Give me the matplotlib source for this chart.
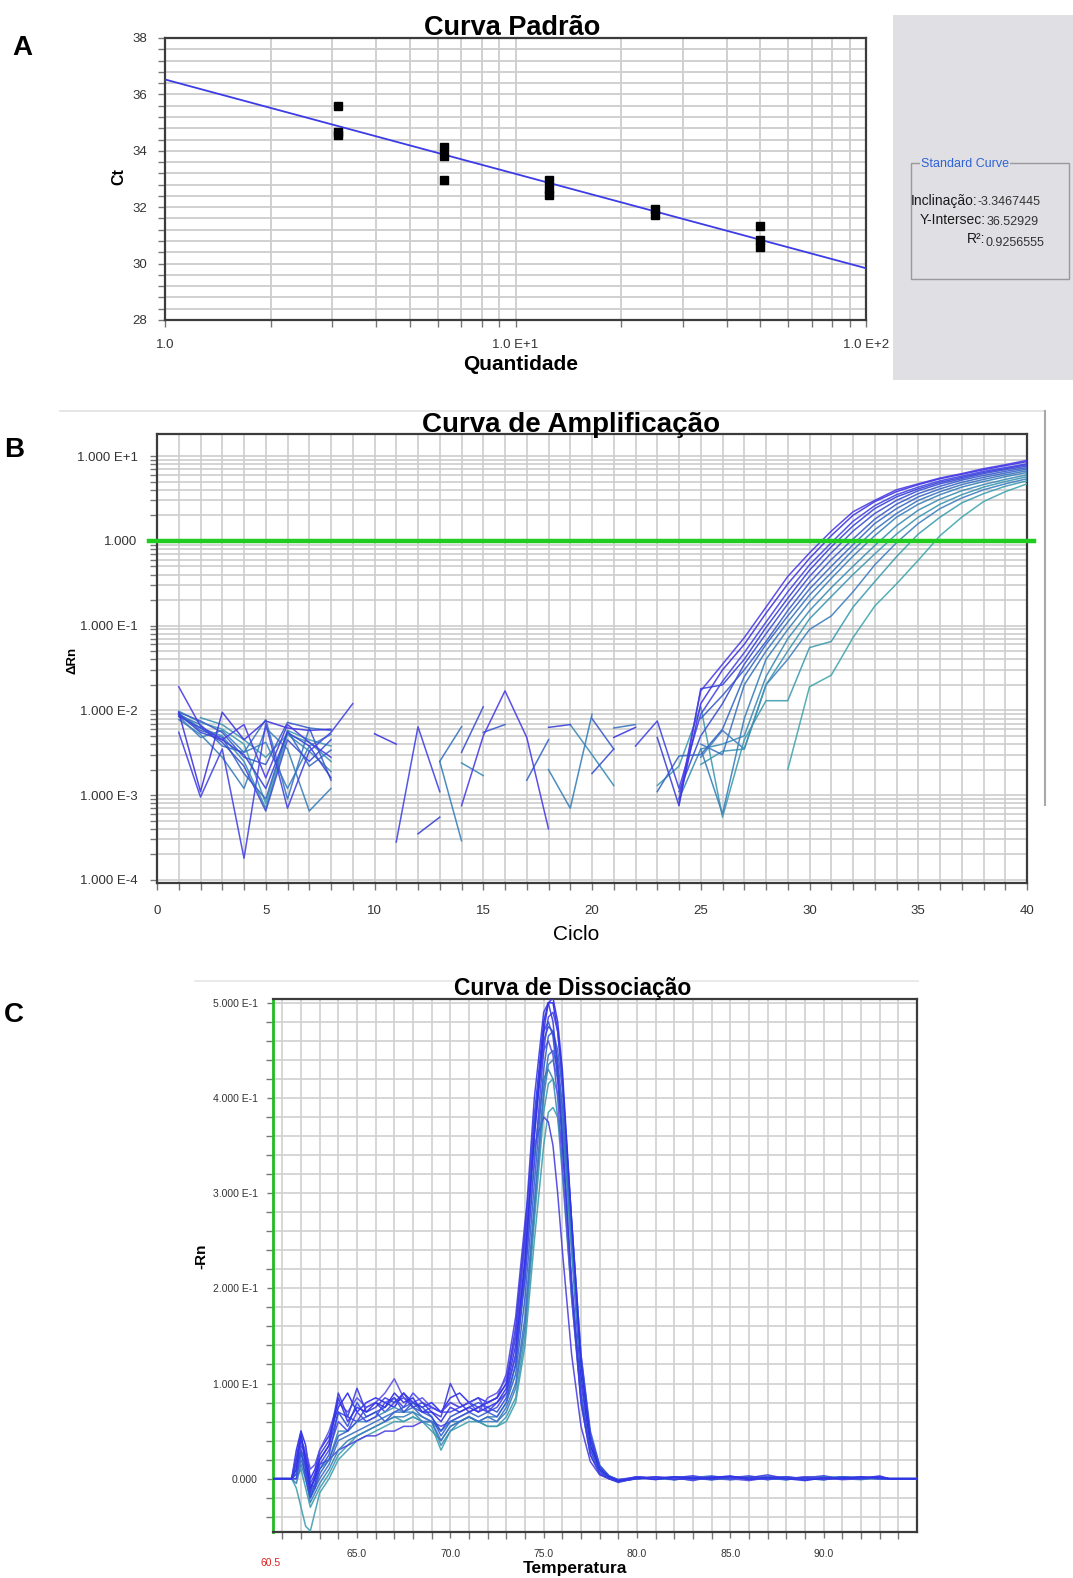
import numpy as np
import matplotlib
matplotlib.use("Agg")
import matplotlib.pyplot as plt
from matplotlib.ticker import LogLocator, MultipleLocator, NullFormatter, FixedLocator
from matplotlib.patches import Rectangle
from matplotlib.lines import Line2D

plt.rcParams['font.family'] = ['Liberation Sans', 'DejaVu Sans']

W, H = 1073, 1578
n = np.nan

# ---------------- A: standard curve ----------------
quantity = [3.125, 3.125, 3.125, 6.25, 6.25, 6.25, 12.5, 12.5, 12.5, 25, 25, 50, 50, 50]
ct = [35.6, 34.66, 34.56, 34.15, 33.8, 32.96, 32.98, 32.66, 32.42, 31.92, 31.74, 31.33, 30.84, 30.58]
slope = -3.3467445
intercept = 36.52929
r2 = 0.9256555

# ---------------- B: amplification curves (cycles 1..40) ----------------
cycles = list(range(1, 41))
amp_rn = [
    [0.019, 0.0065, 0.0045, 0.0068, 0.0016, 0.0068, 0.0042, 0.0028, n, n, n, n, n, 0.00075, 0.005, 0.017, 0.0048, 0.0004, n, n,
     n, n, n, 0.0009, 0.017, 0.035, 0.072, 0.165, 0.38, 0.72, 1.3, 2.2, 3.0, 4.0, 4.7, 5.5, 6.2, 7.1, 7.9, 8.9],
    [0.0095, 0.0011, 0.0095, 0.0045, 0.0075, 0.0062, 0.0058, 0.006, n, 0.0053, 0.004, n, n, n, n, n, n, n, n, n,
     0.0048, 0.0063, n, 0.0008, 0.012, 0.03, 0.06, 0.14, 0.31, 0.62, 1.15, 2.0, 2.9, 3.8, 4.6, 5.4, 6.1, 6.9, 7.7, 8.6],
    [0.0055, 0.00095, 0.0035, 0.00018, 0.007, 0.0007, 0.0033, 0.0055, 0.012, n, 0.00028, 0.0064, 0.0011, n, n, n, n, n, n, n,
     n, 0.0038, 0.0075, 0.0012, 0.009, 0.022, 0.048, 0.11, 0.25, 0.52, 0.95, 1.7, 2.6, 3.5, 4.3, 5.1, 5.8, 6.6, 7.3, 8.1],
    [0.009, 0.0055, 0.0045, 0.003, 0.0012, 0.0055, 0.0038, 0.0016, n, n, n, 0.00035, 0.00055, n, n, n, n, 0.0063, 0.0068, n,
     n, n, 0.0048, 0.00075, 0.018, 0.02, 0.04, 0.095, 0.21, 0.45, 0.85, 1.5, 2.4, 3.3, 4.1, 4.9, 5.6, 6.4, 7.1, 7.9],
    [0.0085, 0.0062, 0.0042, 0.0022, 0.00065, 0.0045, 0.0025, 0.0045, n, n, n, n, n, 0.0032, 0.011, n, n, n, n, 0.0018,
     0.0035, n, n, 0.0011, 0.005, 0.012, 0.035, 0.08, 0.18, 0.38, 0.72, 1.3, 2.1, 3.0, 3.9, 4.7, 5.4, 6.2, 6.9, 7.6],
    [0.0095, 0.0075, 0.0055, 0.0028, 0.0023, 0.0072, 0.0062, 0.0015, n, n, n, n, n, n, 0.0055, 0.0068, n, n, n, 0.008,
     0.0035, n, n, n, 0.008, 0.015, 0.03, 0.065, 0.15, 0.32, 0.6, 1.05, 1.8, 2.7, 3.6, 4.4, 5.2, 5.9, 6.6, 7.3],
    [0.0092, 0.0058, 0.0048, 0.0018, 0.0009, 0.0058, 0.0022, 0.0034, n, n, n, n, n, n, n, n, 0.0015, 0.0045, n, n,
     n, n, 0.0011, 0.0029, 0.003, 0.006, 0.025, 0.06, 0.13, 0.27, 0.5, 0.9, 1.6, 2.4, 3.3, 4.1, 4.9, 5.6, 6.3, 7.0],
    [0.0088, 0.0068, 0.0038, 0.0032, 0.0078, 0.0009, 0.0062, 0.0058, n, n, n, n, 0.0025, 0.0064, n, n, n, n, n, n,
     0.0062, 0.0068, n, n, 0.004, 0.003, 0.02, 0.05, 0.11, 0.23, 0.42, 0.78, 1.35, 2.1, 3.0, 3.8, 4.6, 5.3, 6.0, 6.7],
    [0.0078, 0.0052, 0.0028, 0.0012, 0.0062, 0.0035, 0.00065, 0.0012, n, n, n, n, 0.0025, 0.00029, n, n, n, 0.002, 0.0007, 0.009,
     n, n, n, n, 0.0035, 0.0006, 0.008, 0.04, 0.09, 0.19, 0.36, 0.66, 1.15, 1.9, 2.7, 3.5, 4.3, 5.0, 5.7, 6.4],
    [0.0092, 0.0062, 0.005, 0.0025, 0.0007, 0.0052, 0.0033, 0.0019, n, n, n, n, n, 0.0024, 0.0017, n, n, n, 0.0068, 0.003,
     0.0013, n, n, 0.0009, 0.0035, 0.004, 0.005, 0.025, 0.07, 0.15, 0.28, 0.5, 0.88, 1.5, 2.3, 3.1, 3.9, 4.6, 5.3, 6.0],
    [n, 0.0082, 0.0068, 0.0045, 0.0028, 0.0052, 0.0042, 0.0025, n, n, n, n, n, n, n, n, n, n, n, n,
     n, n, n, n, 0.0023, 0.0033, 0.0035, 0.02, 0.05, 0.12, 0.22, 0.4, 0.7, 1.2, 1.9, 2.7, 3.5, 4.3, 5.0, 5.7],
    [0.0085, 0.0048, 0.0058, 0.0032, 0.0042, 0.0012, 0.0038, 0.0052, n, n, n, n, n, n, n, n, n, n, n, n,
     n, n, n, n, 0.0028, 0.0058, 0.0035, 0.02, 0.04, 0.09, 0.13, 0.25, 0.52, 0.95, 1.6, 2.4, 3.2, 4.0, 4.7, 5.4],
    [0.0098, 0.0072, 0.006, 0.004, 0.0008, 0.0058, 0.0045, 0.0038, n, n, n, n, n, n, n, n, n, n, n, n,
     n, n, 0.0013, 0.0022, 0.011, 0.00055, 0.0045, 0.013, 0.013, 0.055, 0.065, 0.165, 0.33, 0.65, 1.2, 1.9, 2.8, 3.6, 4.4, 5.1],
    [n, n, n, n, n, n, n, n, n, n, n, n, n, n, n, n, n, n, n, n,
     n, n, n, n, n, n, n, n, 0.002, 0.019, 0.026, 0.072, 0.17, 0.31, 0.59, 1.15, 1.9, 2.9, 3.8, 4.7],
]
amp_colors = ['#4b3ce8', '#3f36e0', '#4444e6', '#3a44d8', '#3c50d2', '#3a5ccc', '#3868c4',
              '#3b74c0', '#3a80ba', '#3c8cb6', '#3d96b2', '#3f7fc0', '#3f9cb0', '#43a6ae']
threshold = 1.0

# ---------------- C: dissociation curves ----------------
melt_temp = [60.5, 61.5,
             61.75, 62.0, 62.25, 62.5, 62.75, 63.0,
             63.5, 64.0, 64.5, 65.0, 65.5, 66.0, 66.5, 67.0, 67.5, 68.0, 68.5, 69.0, 69.5, 70.0, 70.5,
             71.0, 71.5, 72.0, 72.5, 73.0, 73.5,
             74.0, 74.5, 75.0, 75.25, 75.5, 75.75, 76.0,
             76.5, 77.0, 77.5, 78.0, 78.5, 79.0,
             80, 81, 82, 83, 84, 85, 86, 87, 88, 89, 90, 91, 92, 93,
             93.5, 95.0]
melt_rn = [
    [0, 0, 0.01, 0.045, 0.02, -0.01, 0.0, 0.02,
     0.035, 0.085, 0.06, 0.075, 0.07, 0.08, 0.075, 0.09, 0.08, 0.085, 0.07, 0.07, 0.06, 0.075, 0.07, 0.075, 0.07, 0.075, 0.08, 0.095, 0.14,
     0.23, 0.36, 0.47, 0.5, 0.505, 0.48, 0.43, 0.27, 0.12, 0.04, 0.01, 0.002, -0.002,
     0.001, -0.001, 0.002, 0.0, 0.001, 0.003, -0.001, 0.001, 0.0, -0.002, 0.001, 0.0, 0.002, 0.001, 0.0, 0.0],
    [0, 0, 0.02, 0.05, 0.01, -0.015, 0.005, 0.025,
     0.04, 0.09, 0.065, 0.095, 0.07, 0.075, 0.085, 0.08, 0.09, 0.075, 0.08, 0.07, 0.065, 0.1, 0.08, 0.07, 0.075, 0.08, 0.085, 0.1, 0.16,
     0.26, 0.4, 0.49, 0.5, 0.48, 0.43, 0.36, 0.2, 0.08, 0.025, 0.005, 0.0, -0.003,
     0.0, 0.002, -0.001, 0.001, 0.0, 0.002, 0.001, 0.004, 0.0, 0.001, -0.001, 0.001, 0.0, 0.003, 0.0, 0.0],
    [0, 0, 0.0, 0.035, 0.025, -0.005, -0.01, 0.015,
     0.03, 0.06, 0.05, 0.07, 0.06, 0.065, 0.08, 0.085, 0.075, 0.09, 0.08, 0.075, 0.07, 0.07, 0.075, 0.08, 0.085, 0.07, 0.075, 0.09, 0.13,
     0.21, 0.33, 0.45, 0.485, 0.49, 0.47, 0.42, 0.27, 0.13, 0.045, 0.012, 0.002, -0.001,
     0.002, 0.0, 0.001, -0.002, 0.002, 0.0, 0.001, -0.001, 0.002, 0.0, 0.001, -0.001, 0.0, 0.001, 0.0, 0.0],
    [0, 0, 0.015, 0.03, 0.0, -0.02, -0.005, 0.01,
     0.025, 0.07, 0.055, 0.08, 0.065, 0.07, 0.075, 0.085, 0.07, 0.08, 0.075, 0.065, 0.05, 0.065, 0.07, 0.075, 0.08, 0.075, 0.07, 0.085, 0.12,
     0.22, 0.37, 0.47, 0.48, 0.465, 0.42, 0.35, 0.21, 0.09, 0.03, 0.008, 0.0, -0.004,
     0.001, 0.0, 0.002, 0.001, -0.001, 0.002, 0.0, 0.001, 0.002, -0.001, 0.0, 0.002, 0.001, 0.0, 0.0, 0.0],
    [0, 0, 0.005, 0.025, 0.015, -0.02, -0.01, 0.005,
     0.02, 0.045, 0.05, 0.06, 0.065, 0.07, 0.06, 0.07, 0.075, 0.08, 0.07, 0.065, 0.045, 0.06, 0.065, 0.07, 0.065, 0.07, 0.065, 0.08, 0.11,
     0.19, 0.31, 0.43, 0.465, 0.47, 0.45, 0.41, 0.27, 0.13, 0.05, 0.014, 0.003, -0.002,
     0.0, 0.001, -0.001, 0.001, 0.003, 0.0, 0.002, 0.0, -0.001, 0.001, 0.0, 0.001, 0.002, 0.0, 0.0, 0.0],
    [0, 0, 0.025, 0.04, 0.03, 0.01, 0.015, 0.03,
     0.05, 0.08, 0.07, 0.085, 0.075, 0.08, 0.09, 0.105, 0.085, 0.08, 0.085, 0.075, 0.07, 0.08, 0.075, 0.08, 0.07, 0.085, 0.09, 0.105, 0.15,
     0.25, 0.38, 0.45, 0.46, 0.445, 0.4, 0.33, 0.19, 0.08, 0.025, 0.006, 0.0, -0.003,
     0.002, 0.001, 0.0, 0.002, 0.001, 0.0, -0.002, 0.001, 0.0, 0.002, 0.001, 0.0, 0.001, 0.002, 0.0, 0.0],
    [0, 0, 0.0, 0.02, 0.005, -0.02, -0.01, 0.0,
     0.015, 0.04, 0.045, 0.05, 0.055, 0.06, 0.065, 0.07, 0.07, 0.075, 0.065, 0.06, 0.04, 0.055, 0.06, 0.065, 0.06, 0.065, 0.06, 0.075, 0.1,
     0.17, 0.29, 0.41, 0.445, 0.45, 0.43, 0.39, 0.26, 0.12, 0.045, 0.012, 0.002, -0.002,
     0.001, 0.0, 0.001, 0.0, 0.002, -0.001, 0.0, 0.002, 0.001, 0.0, -0.001, 0.001, 0.0, 0.001, 0.0, 0.0],
    [0, 0, -0.005, 0.015, 0.0, -0.025, -0.015, -0.005,
     0.01, 0.03, 0.04, 0.045, 0.05, 0.055, 0.06, 0.065, 0.065, 0.07, 0.065, 0.06, 0.05, 0.06, 0.06, 0.065, 0.06, 0.06, 0.06, 0.07, 0.095,
     0.16, 0.28, 0.4, 0.435, 0.44, 0.42, 0.38, 0.25, 0.12, 0.045, 0.013, 0.003, -0.001,
     0.0, 0.001, 0.0, -0.001, 0.001, 0.002, 0.0, 0.001, 0.0, 0.001, 0.002, 0.0, -0.001, 0.001, 0.0, 0.0],
    [0, 0, 0.01, 0.03, 0.01, -0.015, -0.005, 0.01,
     0.02, 0.05, 0.05, 0.06, 0.06, 0.065, 0.07, 0.075, 0.07, 0.07, 0.06, 0.06, 0.035, 0.05, 0.06, 0.065, 0.06, 0.065, 0.065, 0.08, 0.12,
     0.21, 0.34, 0.42, 0.43, 0.42, 0.38, 0.32, 0.19, 0.085, 0.03, 0.008, 0.001, -0.003,
     0.001, 0.0, 0.002, 0.0, 0.001, 0.0, 0.002, -0.001, 0.001, 0.0, 0.001, 0.002, 0.0, 0.0, 0.0, 0.0],
    [0, 0, 0.005, 0.03, 0.02, -0.01, 0.0, 0.015,
     0.02, 0.03, 0.035, 0.04, 0.045, 0.045, 0.05, 0.05, 0.055, 0.055, 0.06, 0.06, 0.055, 0.06, 0.065, 0.07, 0.075, 0.08, 0.085, 0.11, 0.17,
     0.27, 0.35, 0.38, 0.375, 0.35, 0.3, 0.24, 0.13, 0.055, 0.018, 0.004, 0.0, -0.003,
     0.0, 0.002, 0.001, 0.0, -0.001, 0.001, 0.003, 0.0, 0.001, -0.001, 0.002, 0.0, 0.001, 0.0, 0.0, 0.0],
    [0, 0, 0.0, 0.01, -0.01, -0.03, -0.02, -0.01,
     0.005, 0.025, 0.035, 0.045, 0.05, 0.055, 0.06, 0.065, 0.06, 0.065, 0.06, 0.05, 0.04, 0.055, 0.06, 0.065, 0.06, 0.055, 0.055, 0.065, 0.085,
     0.15, 0.27, 0.385, 0.415, 0.42, 0.405, 0.37, 0.25, 0.12, 0.045, 0.013, 0.002, -0.002,
     0.001, 0.0, -0.001, 0.001, 0.0, 0.002, 0.0, 0.001, -0.001, 0.001, 0.0, 0.002, 0.0, 0.001, 0.0, 0.0],
    [0, 0, -0.01, -0.03, -0.05, -0.055, -0.035, -0.015,
     0.0, 0.02, 0.03, 0.04, 0.045, 0.05, 0.055, 0.06, 0.06, 0.065, 0.06, 0.055, 0.03, 0.05, 0.055, 0.06, 0.06, 0.055, 0.055, 0.06, 0.08,
     0.14, 0.25, 0.35, 0.385, 0.39, 0.38, 0.35, 0.24, 0.12, 0.045, 0.014, 0.003, -0.001,
     0.0, 0.001, 0.0, 0.001, -0.001, 0.0, 0.001, 0.0, 0.002, 0.0, -0.001, 0.001, 0.0, 0.001, 0.0, 0.0],
    [0, 0, 0.03, 0.05, 0.035, 0.0, 0.01, 0.03,
     0.045, 0.075, 0.09, 0.07, 0.08, 0.085, 0.08, 0.075, 0.09, 0.08, 0.075, 0.08, 0.07, 0.085, 0.09, 0.08, 0.085, 0.08, 0.085, 0.1, 0.15,
     0.25, 0.38, 0.48, 0.5, 0.5, 0.47, 0.42, 0.26, 0.11, 0.035, 0.009, 0.001, -0.002,
     0.002, 0.0, 0.001, 0.003, 0.0, -0.001, 0.001, 0.002, 0.0, 0.001, 0.003, 0.0, 0.001, 0.0, 0.0, 0.0],
    [0, 0, 0.02, 0.04, 0.025, -0.005, 0.005, 0.02,
     0.035, 0.07, 0.065, 0.06, 0.075, 0.08, 0.07, 0.08, 0.085, 0.075, 0.07, 0.075, 0.07, 0.08, 0.075, 0.08, 0.075, 0.07, 0.08, 0.09, 0.13,
     0.23, 0.36, 0.46, 0.475, 0.47, 0.44, 0.39, 0.24, 0.1, 0.035, 0.009, 0.001, -0.002,
     0.0, 0.001, 0.0, -0.001, 0.002, 0.001, 0.0, 0.001, -0.001, 0.002, 0.0, 0.001, 0.0, 0.002, 0.0, 0.0],
]
melt_colors = ['#3030e8', '#3b3be0', '#4545e8', '#2f4fd8', '#3560d0', '#5a50e6', '#3a70c4',
               '#3a80ba', '#3c8cb6', '#4a40e0', '#3f9cb0', '#40a0b0', '#2828ee', '#3e46dc']


def fx(px):
    return px / W


def fy(py):
    return 1 - py / H


def box(left, top, right, bottom):
    return [fx(left), fy(bottom), (right - left) / W, (bottom - top) / H]


def style_axes(ax, spine_color='#3c3c3c'):
    ax.set_axisbelow(True)
    for s in ax.spines.values():
        s.set_color(spine_color)
        s.set_linewidth(1.6)
    ax.tick_params(which='both', direction='out', color='#777777', labelcolor='#333333')
    ax.tick_params(which='both', length=5, width=1)


fig = plt.figure(figsize=(W / 100, H / 100), dpi=100)
fig.patch.set_facecolor('white')

# ===== panel A =====
axA = fig.add_axes(box(165, 38, 866, 320))
axA.set_xscale('log')
axA.set_xlim(1, 100)
axA.set_ylim(28, 38)
axA.set_xticks([1, 10, 100], ['1.0', '1.0 E+1', '1.0 E+2'])
axA.xaxis.set_minor_locator(LogLocator(base=10, subs=np.arange(2, 10), numticks=10))
axA.xaxis.set_minor_formatter(NullFormatter())
axA.set_yticks([28, 30, 32, 34, 36, 38], ['28', '30', '32', '34', '36', '38'])
axA.yaxis.set_minor_locator(MultipleLocator(0.4))
axA.grid(which='both', color='#cdcdcd', lw=1.3)
style_axes(axA)
axA.tick_params(labelsize=9.5)
axA.tick_params(axis='x', pad=9)
axA.tick_params(axis='y', pad=8)

xfit = np.array([1.0, 100.0])
axA.plot(xfit, slope * np.log10(xfit) + intercept, color='#3c3ce6', lw=1.3, zorder=3)
axA.plot(quantity, ct, 's', color='black', ms=5.5, zorder=4)

fig.text(fx(512), fy(28), 'Curva Padrão', ha='center', va='center', fontsize=19.5, fontweight='bold')
fig.text(fx(521), fy(364), 'Quantidade', ha='center', va='center', fontsize=15, fontweight='bold')
fig.text(fx(119), fy(177), 'Ct', ha='center', va='center', fontsize=11.5, fontweight='bold', rotation=90)
fig.text(fx(22), fy(48), 'A', ha='center', va='center', fontsize=20, fontweight='bold')

# info panel
fig.patches.append(Rectangle((fx(893), fy(380)), (W - 893) / W, 365 / H, transform=fig.transFigure,
                             facecolor='#dfdfe4', edgecolor='none', zorder=0))
fig.patches.append(Rectangle((fx(911), fy(279)), (1069 - 911) / W, (279 - 163) / H, transform=fig.transFigure,
                             facecolor='none', edgecolor='#9a9a9a', lw=1.0, zorder=1))
fig.text(fx(921), fy(164), 'Standard Curve', ha='left', va='center', fontsize=9, color='#2f62d6',
         bbox=dict(facecolor='#dfdfe4', edgecolor='none', pad=1))
fig.text(fx(977), fy(201), 'Inclinação:', ha='right', va='center', fontsize=10, color='#1a1a1a')
fig.text(fx(977), fy(202), f'{slope:.7f}', ha='left', va='center', fontsize=9, color='#333333')
fig.text(fx(986), fy(220), 'Y-Intersec:', ha='right', va='center', fontsize=10, color='#1a1a1a')
fig.text(fx(987), fy(222), f'{intercept:.5f}', ha='left', va='center', fontsize=9, color='#333333')
fig.text(fx(985), fy(239), 'R²:', ha='right', va='center', fontsize=10, color='#1a1a1a')
fig.text(fx(985), fy(243), f'{r2:.7f}', ha='left', va='center', fontsize=9, color='#333333')

# ===== panel B =====
fig.lines.append(Line2D([fx(60), fx(1045)], [fy(411), fy(411)], transform=fig.transFigure, color='#e2e2e2', lw=1.2))
fig.lines.append(Line2D([fx(1045), fx(1045)], [fy(411), fy(805)], transform=fig.transFigure, color='#a8a8a8', lw=1.5))

axB = fig.add_axes(box(157, 434, 1027, 883))
axB.set_yscale('log')
axB.set_xlim(0, 40)
axB.set_ylim(9.2e-5, 18.2)
axB.set_xticks(range(0, 41, 5), [str(v) for v in range(0, 41, 5)])
axB.xaxis.set_minor_locator(MultipleLocator(1))
axB.set_yticks([1e-4, 1e-3, 1e-2, 1e-1, 1, 10],
               ['1.000 E-4', '1.000 E-3', '1.000 E-2', '1.000 E-1', '1.000', '1.000 E+1'])
axB.yaxis.set_minor_locator(LogLocator(base=10, subs=np.arange(2, 10), numticks=20))
axB.yaxis.set_minor_formatter(NullFormatter())
axB.grid(which='both', color='#cdcdcd', lw=1.2)
style_axes(axB)
axB.tick_params(labelsize=9.5)
axB.tick_params(axis='x', pad=11)
axB.tick_params(axis='y', pad=9)

for vals, col in zip(amp_rn[::-1], amp_colors[::-1]):
    axB.plot(cycles, vals, color=col, lw=1.1, alpha=0.9, zorder=3)
axB.plot([-0.35, 40.3], [threshold, threshold], color='#1fcc1f', lw=3.2, zorder=4, clip_on=False)

fig.text(fx(571), fy(425), 'Curva de Amplificação', ha='center', va='center', fontsize=20, fontweight='bold')
fig.text(fx(576), fy(934), 'Ciclo', ha='center', va='center', fontsize=15)
fig.text(fx(73), fy(660), 'ΔRn', ha='center', va='center', fontsize=9.5, fontweight='bold', rotation=90)
fig.text(fx(14), fy(450), 'B', ha='center', va='center', fontsize=20, fontweight='bold')

# ===== panel C =====
fig.lines.append(Line2D([fx(195), fx(918)], [fy(981), fy(981)], transform=fig.transFigure, color='#e6e6e6', lw=1.2))

axC = fig.add_axes(box(273, 999, 917, 1532))
axC.set_xlim(60.5, 95)
axC.set_ylim(-0.056, 0.504)
axC.set_xticks([65, 70, 75, 80, 85, 90], ['65.0', '70.0', '75.0', '80.0', '85.0', '90.0'])
axC.xaxis.set_minor_locator(FixedLocator(list(range(61, 95))))
axC.set_yticks([0, 0.1, 0.2, 0.3, 0.4, 0.5],
               ['0.000', '1.000 E-1', '2.000 E-1', '3.000 E-1', '4.000 E-1', '5.000 E-1'])
axC.yaxis.set_minor_locator(FixedLocator([v / 50 for v in range(-2, 26)]))
axC.grid(which='both', color='#d0d0d0', lw=1.2)
style_axes(axC)
axC.spines['left'].set_color('#22bb22')
axC.spines['left'].set_linewidth(2)
axC.tick_params(labelsize=7.5, length=4)
axC.tick_params(axis='x', pad=8)
axC.tick_params(axis='y', pad=7)

for vals, col in zip(melt_rn[::-1], melt_colors[::-1]):
    axC.plot(melt_temp, vals, color=col, lw=1.1, alpha=0.9, zorder=3)

fig.text(fx(271), fy(1563), '60.5', ha='center', va='center', fontsize=7.5, color='#e02020')
fig.text(fx(573), fy(989), 'Curva de Dissociação', ha='center', va='center', fontsize=16.5, fontweight='bold')
fig.text(fx(575), fy(1568), 'Temperatura', ha='center', va='center', fontsize=12.5, fontweight='bold')
fig.text(fx(201), fy(1256), '-Rn', ha='center', va='center', fontsize=11, fontweight='bold', rotation=90)
fig.text(fx(14), fy(1015), 'C', ha='center', va='center', fontsize=20, fontweight='bold')

fig.savefig('out.png', dpi=100, facecolor='white')
